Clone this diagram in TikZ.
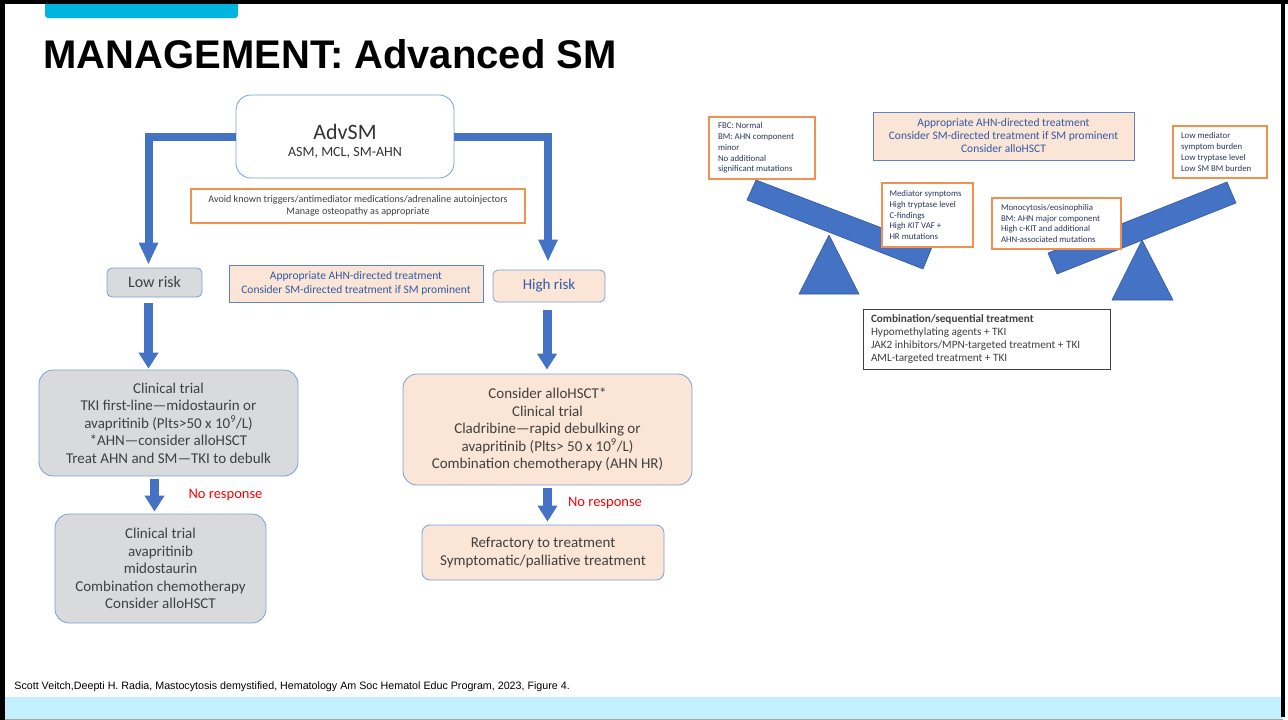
\documentclass[tikz,border=0pt]{standalone}
\usepackage{fontspec}
\setmainfont{Carlito}
\newfontfamily\arialfont{Liberation Sans}
\usetikzlibrary{arrows.meta}

\definecolor{arrowblue}{RGB}{68,114,196}
\definecolor{arrowedge}{RGB}{52,88,155}
\definecolor{boxline}{RGB}{120,160,215}
\definecolor{peachline}{RGB}{95,130,200}
\definecolor{greyfill}{RGB}{217,218,220}
\definecolor{peach}{RGB}{251,229,214}
\definecolor{orangeline}{RGB}{240,145,80}
\definecolor{bluetext}{RGB}{50,90,165}
\definecolor{darktext}{RGB}{64,64,64}
\definecolor{navytext}{RGB}{45,55,95}
\definecolor{tabcyan}{RGB}{0,180,224}
\definecolor{footcyan}{RGB}{194,240,252}

\begin{document}
\begin{tikzpicture}[x=1pt, y=-1pt, line width=0.8pt,
  every node/.style={inner sep=0pt, align=center},
  roundbox/.style={draw=boxline, rounded corners=14pt, text=darktext,
    font=\fontsize{15}{17.5}\selectfont},
  riskbox/.style={draw=boxline, rounded corners=5pt},
  notebox/.style={draw=orangeline, line width=1.1pt, fill=white, align=flush left,
    text=navytext, font=\fontsize{8.8}{10.8}\selectfont},
  bigarrow/.style={draw=arrowblue, line width=8pt,
    -{Triangle[length=22pt,width=18pt]}},
  smallarrow/.style={draw=arrowblue, line width=9pt,
    -{Triangle[length=16pt,width=19pt]}},
  noresp/.style={text=red, font=\fontsize{14.5}{16}\selectfont},
  beam/.style={fill=arrowblue, draw=arrowedge, line width=0.6pt}
]
\useasboundingbox (0,0) rectangle (1288,720);

% Slide frame, tab and footer band
\fill[white] (0,0) rectangle (1288,720);
\fill[footcyan] (5,697) rectangle (1283,720);
\draw[gray!70, line width=1pt] (5,719.5) -- (1283,719.5);
\fill[tabcyan, rounded corners=3pt] (45,-6) rectangle (238,18);
\fill[black] (0,0) rectangle (1288,4);
\fill[black] (0,0) rectangle (5,720);
\fill[black] (1281,0) rectangle (1285,717);

% Title and source line
\node[anchor=base west, font=\arialfont\bfseries\fontsize{40}{40}\selectfont]
  (title) at (43,68) {MANAGEMENT: Advanced SM};
\node[anchor=base west, font=\arialfont\fontsize{10.7}{12}\selectfont]
  (source) at (14,689) {Scott Veitch,Deepti H. Radia, Mastocytosis demystified, Hematology Am Soc Hematol Educ Program, 2023, Figure 4.};

% Flow chart boxes
\node[draw=boxline, rounded corners=15pt, fill=white, minimum width=218pt,
  minimum height=83pt] (adv) at (345,136.5) {};
\node[text=black!80] (advtext) at ([yshift=-5pt]adv.center)
  {{\fontsize{22}{22}\selectfont AdvSM}\\[5pt]{\fontsize{14}{14}\selectfont ASM, MCL, SM-AHN}};
\node[draw=orangeline, line width=1.1pt, minimum width=334pt, minimum height=34pt,
  text=darktext, font=\fontsize{10.1}{12}\selectfont] (avoid) at (358,206)
  {Avoid known triggers/antimediator medications/adrenaline autoinjectors\\
   Manage osteopathy as appropriate};

\node[riskbox, fill=greyfill, minimum width=95pt, minimum height=29pt,
  text=darktext, font=\fontsize{16}{16}\selectfont] (low) at (154.5,282.5) {Low risk};
\node[draw=peachline, fill=peach, minimum width=254pt, minimum height=37pt,
  text=bluetext, font=\fontsize{11.5}{13.5}\selectfont] (ahn) at (356,283.5)
  {Appropriate AHN-directed treatment\\Consider SM-directed treatment if SM prominent};
\node[riskbox, fill=peach, minimum width=112pt, minimum height=32pt,
  text=bluetext, font=\fontsize{15}{15}\selectfont] (high) at (549,286) {High risk};

\node[roundbox, fill=greyfill, minimum width=259pt, minimum height=106pt]
  (trial) at (168.5,423)
  {Clinical trial\\TKI first-line---midostaurin or\\
   avapritinib (Plts>50 x 10\textsuperscript{9}/L)\\
   *AHN---consider alloHSCT\\Treat AHN and SM---TKI to debulk};
\node[roundbox, fill=greyfill, minimum width=211pt, minimum height=109pt]
  (rescue) at (160.5,568.5)
  {Clinical trial\\avapritinib\\midostaurin\\Combination chemotherapy\\Consider alloHSCT};

\node[roundbox, fill=peach, minimum width=289pt, minimum height=111pt]
  (treat) at (547.5,429.5)
  {Consider alloHSCT*\\Clinical trial\\Cladribine---rapid debulking or\\
   avapritinib (Plts> 50 x 10\textsuperscript{9}/L)\\Combination chemotherapy (AHN HR)};
\node[roundbox, rounded corners=8pt, fill=peach, minimum width=242pt,
  minimum height=55pt] (refract) at (543,552.5)
  {Refractory to treatment\\Symptomatic/palliative treatment};

\node[noresp] (noleft) at (225.5,495) {No response};
\node[noresp] (noright) at (605,503) {No response};

% Arrows
\draw[bigarrow, shorten >=3pt] (adv.west) -| ([xshift=-6pt]low.north);
\draw[bigarrow, shorten >=8pt] (adv.east) -| ([xshift=-1pt]high.north);
\draw[smallarrow, shorten <=6pt, shorten >=1pt]
  ([xshift=-6pt]low.south) -- ([xshift=-6pt]low.south |- trial.north);
\draw[smallarrow, shorten <=3pt, shorten >=2pt]
  (trial.south -| low.south) -- (low.south |- rescue.north);
\draw[smallarrow, shorten <=8pt, shorten >=4pt]
  ([xshift=-2pt]high.south) -- ([xshift=-2pt]high.south |- treat.north);
\draw[smallarrow, shorten <=3pt, shorten >=3pt]
  (treat.south) -- (treat.south |- refract.north);

% Seesaws
\filldraw[beam] (799,294) -- (829,235) -- (859,294) -- cycle;
\filldraw[beam] (756,180) -- (932,247) -- (923,269) -- (747,200) -- cycle;
\filldraw[beam] (1112,300) -- (1142,240) -- (1173,300) -- cycle;
\filldraw[beam] (1048,253) -- (1227,182) -- (1236,203) -- (1057,274) -- cycle;

% Notes on the seesaws
\node[notebox, minimum width=106pt, minimum height=62pt, text width=88pt]
  (fbc) at (762,148)
  {FBC: Normal\\BM: AHN component\\minor\\No additional\\significant mutations};
\node[notebox, minimum width=91pt, minimum height=64pt, text width=76pt]
  (mediator) at (927.5,215)
  {Mediator symptoms\\High tryptase level\\C-findings\\High \textit{KIT} VAF +\\HR mutations};
\node[draw=peachline, fill=peach, minimum width=261pt, minimum height=48pt,
  text=bluetext, font=\fontsize{11.5}{13}\selectfont] (ahnright) at (1003.5,136)
  {Appropriate AHN-directed treatment\\Consider SM-directed treatment if SM prominent\\Consider alloHSCT};
\node[notebox, minimum width=129pt, minimum height=51pt, text width=111pt]
  (mono) at (1056.5,223.5)
  {Monocytosis/eosinophilia\\BM: AHN major component\\High c-KIT and additional\\AHN-associated mutations};
\node[notebox, minimum width=94pt, minimum height=52pt, text width=78pt]
  (lowmed) at (1220,152)
  {Low mediator\\symptom burden\\Low tryptase level\\Low SM BM burden};
\node[draw=darktext, fill=white, minimum width=247pt, minimum height=60pt,
  text width=231pt, align=flush left, text=darktext, font=\fontsize{11.2}{13}\selectfont]
  (combo) at (986.5,339)
  {\textbf{Combination/sequential treatment}\\Hypomethylating agents + TKI\\
   JAK2 inhibitors/MPN-targeted treatment + TKI\\AML-targeted treatment + TKI};

\end{tikzpicture}
\end{document}
